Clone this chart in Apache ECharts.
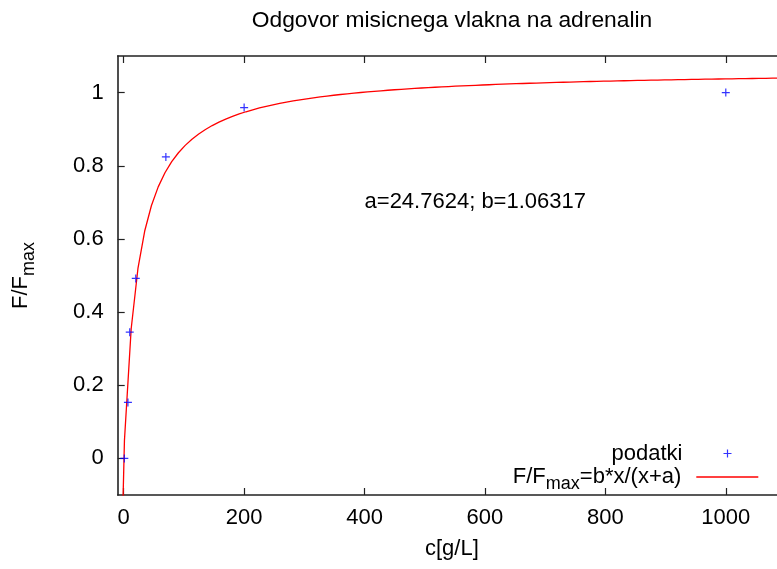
<!DOCTYPE html>
<html>
<head>
<meta charset="utf-8">
<script src="https://cdn.jsdelivr.net/npm/echarts@6/dist/echarts.min.js"></script>
<style>
  html, body { margin: 0; padding: 0; background: #ffffff; overflow: hidden; }
  /* the plot frame runs a few pixels past the right edge of the page */
  #chart { width: 786px; height: 569px; }
</style>
</head>
<body>
<div id="chart"></div>
<script>
// Measured muscle-fibre response vs. adrenaline concentration
const concentration = [1, 7, 10, 20, 70, 200, 1000];   // c [g/L]
const response = [0, 0.153, 0.345, 0.492, 0.824, 0.959, 1.0]; // F/Fmax

// Fitted parameters of F/Fmax = b*x/(x+a)
const fitA = 24.7624;
const fitB = 1.06317;

// Axis ranges and tick positions
const xRange = [-10, 1100];
const yRange = [-0.1, 1.1];
const xTicks = [0, 200, 400, 600, 800, 1000];
const yTicks = [0, 0.2, 0.4, 0.6, 0.8, 1];

const titleText = 'Odgovor misicnega vlakna na adrenalin';
const dataName = 'podatki';
const fitName = 'F/Fmax=b*x/(x+a)';
const sampleCount = 100;

// Sample the fitted function evenly across the x range
const fitPoints = [];
for (let i = 0; i < sampleCount; i++) {
  const x = xRange[0] + i * (xRange[1] - xRange[0]) / (sampleCount - 1);
  fitPoints.push([x, fitB * x / (x + fitA)]);
}
const dataPoints = concentration.map((c, i) => [c, response[i]]);

const FONT = 'Liberation Sans, Arial, Helvetica, sans-serif';
const INK = '#222222';
const plusPath = 'path://M0,34L34,34L34,0L46,0L46,34L80,34L80,46L46,46L46,80L34,80L34,46L0,46Z';

const subRich = {
  m: { fontSize: 22, fontFamily: FONT, color: '#000' },
  s: { fontSize: 18, fontFamily: FONT, color: '#000', padding: [15, 0, 0, 0] }
};

const chart = echarts.init(document.getElementById('chart'), null, { renderer: 'canvas' });

const tickStyle = { show: true, inside: true, length: 7, lineStyle: { color: INK, width: 1.2 } };
const axisLineStyle = { show: true, onZero: false, lineStyle: { color: INK, width: 1.6 } };

chart.setOption({
  animation: false,
  backgroundColor: '#ffffff',
  title: {
    text: titleText,
    left: 452,
    top: 9,
    padding: 0,
    textAlign: 'center',
    textStyle: { fontSize: 22.8, fontWeight: 'normal', fontFamily: FONT, color: '#000' }
  },
  grid: { left: 117.7, right: 0, top: 56, bottom: 74 },
  legend: [
    {
      data: [dataName],
      orient: 'vertical',
      align: 'right',
      right: 54.5,
      top: 442.5,
      padding: 0,
      itemWidth: 8,
      itemHeight: 8,
      selectedMode: false,
      textStyle: { fontSize: 22, fontFamily: FONT, color: '#000', padding: [0, 36, 0, 0] }
    },
    {
      data: [fitName],
      orient: 'vertical',
      align: 'right',
      right: 27.7,
      top: 466,
      padding: 0,
      icon: 'rect',
      itemWidth: 62,
      itemHeight: 1.3,
      selectedMode: false,
      formatter: () => '{m|F/F}{s|max}{m|=b*x/(x+a)}',
      textStyle: { fontSize: 22, fontFamily: FONT, color: '#000', padding: [0, 10, 0, 0], rich: subRich }
    }
  ],
  xAxis: [
    {
      type: 'value',
      min: xRange[0],
      max: xRange[1],
      name: 'c[g/L]',
      nameLocation: 'middle',
      nameGap: 43,
      nameTextStyle: { fontSize: 22, fontFamily: FONT, color: '#000' },
      axisLine: axisLineStyle,
      axisTick: Object.assign({ customValues: xTicks }, tickStyle),
      axisLabel: {
        customValues: xTicks,
        margin: 12,
        fontSize: 22,
        fontFamily: FONT,
        color: '#000',
        formatter: v => String(Math.round(v))
      },
      splitLine: { show: false }
    },
    {
      type: 'value',
      position: 'top',
      min: xRange[0],
      max: xRange[1],
      axisLine: axisLineStyle,
      axisTick: Object.assign({ customValues: xTicks }, tickStyle),
      axisLabel: { show: false },
      splitLine: { show: false }
    }
  ],
  yAxis: [
    {
      type: 'value',
      min: yRange[0],
      max: yRange[1],
      name: '{m|F/F}{s|max}',
      nameLocation: 'middle',
      nameRotate: 90,
      nameGap: 80,
      nameTextStyle: { fontSize: 22, fontFamily: FONT, color: '#000', rich: subRich },
      axisLine: axisLineStyle,
      axisTick: Object.assign({ customValues: yTicks }, tickStyle),
      axisLabel: {
        customValues: yTicks,
        margin: 14,
        fontSize: 22,
        fontFamily: FONT,
        color: '#000',
        formatter: v => String(+(+v).toFixed(2))
      },
      splitLine: { show: false }
    },
    {
      type: 'value',
      position: 'right',
      min: yRange[0],
      max: yRange[1],
      axisLine: axisLineStyle,
      axisTick: Object.assign({ customValues: yTicks }, tickStyle),
      axisLabel: { show: false },
      splitLine: { show: false }
    }
  ],
  series: [
    {
      name: fitName,
      type: 'line',
      xAxisIndex: 0,
      yAxisIndex: 0,
      data: fitPoints,
      symbol: 'none',
      smooth: false,
      clip: true,
      color: '#ff0000',
      lineStyle: { color: '#ff0000', width: 1.3 },
      z: 2,
      markPoint: {
        silent: true,
        symbol: 'circle',
        symbolSize: 0,
        data: [{ coord: [400, 0.7] }],
        label: {
          show: true,
          position: 'right',
          distance: 0,
          formatter: `a=${fitA}; b=${fitB}`,
          fontSize: 22,
          fontFamily: FONT,
          color: '#000'
        }
      }
    },
    {
      name: dataName,
      type: 'scatter',
      xAxisIndex: 0,
      yAxisIndex: 0,
      data: dataPoints,
      symbol: plusPath,
      symbolSize: 8,
      color: '#0000ff',
      itemStyle: { color: '#0000ff' },
      z: 3
    }
  ]
});
</script>
</body>
</html>
